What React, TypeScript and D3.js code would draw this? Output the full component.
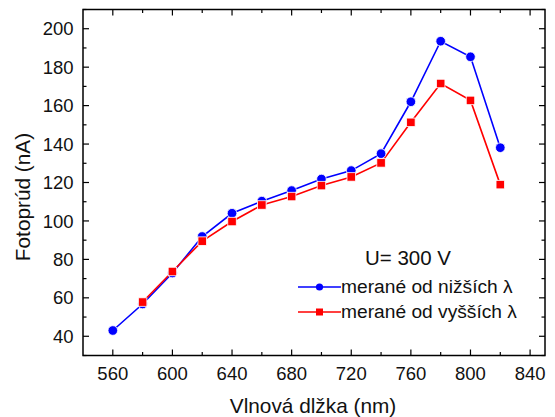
import React from "react";
import * as d3 from "d3";

// Wavelengths (nm) and photocurrent (nA)
const wavelengthsUp = [560, 580, 600, 620, 640, 660, 680, 700, 720, 740, 760, 780, 800, 820];
const currentUp = [43, 56.8, 72.9, 91.9, 104, 110.3, 115.8, 121.8, 126.2, 135, 162, 193.5, 185.4, 138.1];
const wavelengthsDown = [580, 600, 620, 640, 660, 680, 700, 720, 740, 760, 780, 800, 820];
const currentDown = [57.8, 73.7, 89.5, 99.7, 108.3, 112.7, 118.4, 122.9, 130.2, 151.3, 171.5, 162.7, 118.9];

const xTicks = [560, 600, 640, 680, 720, 760, 800, 840];
const xMinorTicks = [580, 620, 660, 700, 740, 780, 820];
const yTicks = [40, 60, 80, 100, 120, 140, 160, 180, 200];
const yMinorTicks = [30, 50, 70, 90, 110, 130, 150, 170, 190, 210];

const legendLabels = ["merané od nižších λ", "merané od vyšších λ"];
const noteText = "U= 300 V";

const W = 555;
const H = 417;
const M = { left: 83, right: 545, top: 9.5, bottom: 355.5 };
const FONT = "'Liberation Sans', Arial, sans-serif";
const BLUE = "#0000ff";
const RED = "#ff0000";
const TEXT = "#111";

export default function App() {
  const x = d3.scaleLinear().domain([540, 850]).range([M.left, M.right]);
  const y = d3.scaleLinear().domain([30, 210]).range([M.bottom, M.top]);

  const line = d3
    .line<[number, number]>()
    .x((d) => x(d[0]))
    .y((d) => y(d[1]));

  const up: [number, number][] = wavelengthsUp.map((w, i) => [w, currentUp[i]]);
  const down: [number, number][] = wavelengthsDown.map((w, i) => [w, currentDown[i]]);

  const major = 6;
  const minor = 3.5;
  const sq = 8.5;

  return (
    <svg
      width={W}
      height={H}
      style={{ position: "absolute", left: 0, top: 0 }}
      fontFamily={FONT}
    >
      <rect width={W} height={H} fill="#fff" />

      {/* series lines */}
      <path d={line(up) || ""} fill="none" stroke={BLUE} strokeWidth={1.6} />
      <path d={line(down) || ""} fill="none" stroke={RED} strokeWidth={1.6} />

      {/* markers */}
      {up.map((d, i) => (
        <circle key={"u" + i} cx={x(d[0])} cy={y(d[1])} r={4.8} fill={BLUE} stroke="#fff" strokeWidth={0.8} />
      ))}
      {down.map((d, i) => (
        <rect
          key={"d" + i}
          x={x(d[0]) - sq / 2}
          y={y(d[1]) - sq / 2}
          width={sq}
          height={sq}
          fill={RED}
          stroke="#fff"
          strokeWidth={0.8}
        />
      ))}

      {/* frame */}
      <rect
        x={M.left}
        y={M.top}
        width={M.right - M.left}
        height={M.bottom - M.top}
        fill="none"
        stroke="#000"
        strokeWidth={1.5}
      />

      {/* x ticks, bottom and top, pointing inward */}
      {xTicks.map((t) => (
        <g key={"xt" + t}>
          <line x1={x(t)} x2={x(t)} y1={M.bottom} y2={M.bottom - major} stroke="#000" strokeWidth={1.2} />
          <line x1={x(t)} x2={x(t)} y1={M.top} y2={M.top + major} stroke="#000" strokeWidth={1.2} />
          <text x={x(t)} y={380} textAnchor="middle" fontSize={18.5} fill={TEXT}>
            {t}
          </text>
        </g>
      ))}
      {xMinorTicks.map((t) => (
        <g key={"xm" + t}>
          <line x1={x(t)} x2={x(t)} y1={M.bottom} y2={M.bottom - minor} stroke="#000" strokeWidth={1.2} />
          <line x1={x(t)} x2={x(t)} y1={M.top} y2={M.top + minor} stroke="#000" strokeWidth={1.2} />
        </g>
      ))}

      {/* y ticks, left and right, pointing inward */}
      {yTicks.map((t) => (
        <g key={"yt" + t}>
          <line x1={M.left} x2={M.left + major} y1={y(t)} y2={y(t)} stroke="#000" strokeWidth={1.2} />
          <line x1={M.right} x2={M.right - major} y1={y(t)} y2={y(t)} stroke="#000" strokeWidth={1.2} />
          <text x={73.5} y={y(t) + 6.6} textAnchor="end" fontSize={18.5} fill={TEXT}>
            {t}
          </text>
        </g>
      ))}
      {yMinorTicks.map((t) => (
        <g key={"ym" + t}>
          <line x1={M.left} x2={M.left + minor} y1={y(t)} y2={y(t)} stroke="#000" strokeWidth={1.2} />
          <line x1={M.right} x2={M.right - minor} y1={y(t)} y2={y(t)} stroke="#000" strokeWidth={1.2} />
        </g>
      ))}

      {/* axis titles */}
      <text x={313} y={412.5} textAnchor="middle" fontSize={20.8} fill={TEXT}>
        Vlnová dlžka (nm)
      </text>
      <text
        transform="translate(30, 197) rotate(-90)"
        textAnchor="middle"
        fontSize={20.8}
        fill={TEXT}
      >
        Fotoprúd (nA)
      </text>

      {/* legend */}
      <text x={365} y={265} fontSize={20.5} fill={TEXT}>
        {noteText}
      </text>
      <g>
        <line x1={298} x2={341} y1={287} y2={287} stroke={BLUE} strokeWidth={1.6} />
        <circle cx={319.5} cy={287} r={3.6} fill={BLUE} />
        <text x={341} y={292.5} fontSize={19.2} fill={TEXT}>
          {legendLabels[0]}
        </text>
      </g>
      <g>
        <line x1={298} x2={341} y1={312} y2={312} stroke={RED} strokeWidth={1.6} />
        <rect x={316} y={308.5} width={7} height={7} fill={RED} />
        <text x={341} y={318} fontSize={19.2} fill={TEXT}>
          {legendLabels[1]}
        </text>
      </g>
    </svg>
  );
}
